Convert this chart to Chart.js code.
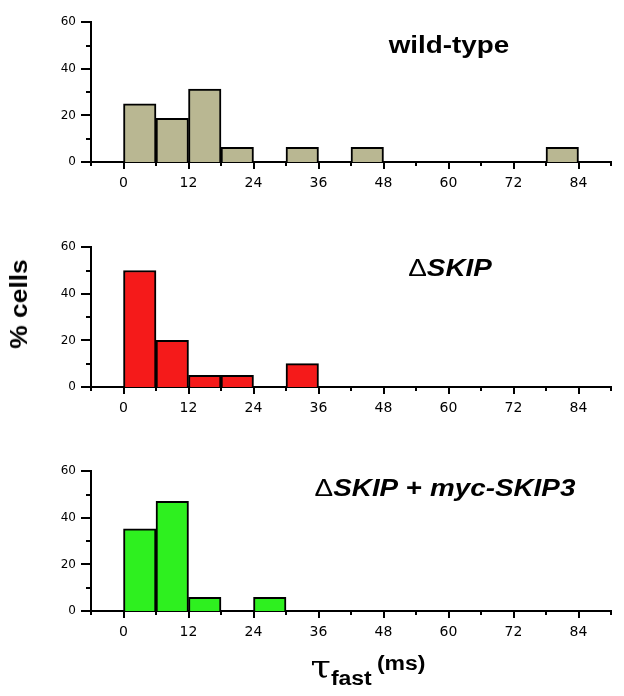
<!DOCTYPE html>
<html>
<head>
<meta charset="utf-8">
<script src="https://cdn.jsdelivr.net/npm/chart.js@4.4.1/dist/chart.umd.min.js"></script>
<style>
  body { margin: 0; background: #fff; font-family: "Liberation Sans", Arial, sans-serif; }
  #wrap { position: relative; width: 624px; height: 696px; overflow: hidden; }
  .panel { position: absolute; left: 0; width: 624px; height: 200px; }
  .lbl { position: absolute; font-weight: bold; color: #000; white-space: nowrap; transform: translate(-50%, -50%) scaleX(1.16); }
  .d { font-weight: normal; }
</style>
</head>
<body>
<div id="wrap">
  <div class="panel" style="top:0px"><canvas id="c1"></canvas></div>
  <div class="panel" style="top:225px"><canvas id="c2"></canvas></div>
  <div class="panel" style="top:449px"><canvas id="c3"></canvas></div>

  <div class="lbl" style="left:449px; top:45px; font-size:24px;">wild-type</div>
  <div class="lbl" style="left:450px; top:268px; font-size:24px;"><span class="d">Δ</span><i>SKIP</i></div>
  <div class="lbl" style="left:445px; top:488px; font-size:24px;"><span class="d">Δ</span><i>SKIP</i> + <i>myc-SKIP3</i></div>
  <div class="lbl" style="left:19px; top:304px; font-size:24px; transform: translate(-50%, -50%) rotate(-90deg) scaleX(1.1);">% cells</div>
  <div class="lbl" style="left:368px; top:667px; font-weight:normal; transform: translate(-50%, -50%) scaleX(1.15);">
    <span style="font-size:32px; font-family:'DejaVu Serif', serif;">τ</span><span style="font-size:20px; font-weight:bold; position:relative; top:7px;">fast</span>
    <span style="font-size:20px; font-weight:bold; position:relative; top:-8px;">(ms)</span>
  </div>
</div>

<script>
// histogram bins (ms), 6 ms wide
const binStarts = [0, 6, 12, 18, 24, 30, 36, 42, 48, 54, 60, 66, 72, 78];
const binWidth = 6;

// % cells per bin
const wildType = [25, 18.75, 31.25, 6.25, 0, 6.25, 0, 6.25, 0, 0, 0, 0, 0, 6.25];
const deltaSkip = [50, 20, 5, 5, 0, 10, 0, 0, 0, 0, 0, 0, 0, 0];
const deltaSkipMyc = [35.3, 47.1, 5.9, 0, 5.9, 0, 0, 0, 0, 0, 0, 0, 0, 0];

const xTickLabels = [0, 12, 24, 36, 48, 60, 72, 84];
const yTickLabels = [0, 20, 40, 60];

// tick marks outside the axes, major and minor
const tickMarks = {
  id: "tickMarks",
  afterDraw(chart) {
    const ctx = chart.ctx;
    const xs = chart.scales.x;
    const ys = chart.scales.y;
    const y0 = ys.getPixelForValue(0);
    const x0 = xs.getPixelForValue(-6);
    ctx.save();
    ctx.strokeStyle = "#000";
    ctx.lineWidth = 2;
    ctx.beginPath();
    for (let v = -6; v <= 90; v += 6) {
      const px = Math.round(xs.getPixelForValue(v));
      const len = xTickLabels.includes(v) ? 7 : 4;
      ctx.moveTo(px, y0);
      ctx.lineTo(px, y0 + len);
    }
    for (let v = 0; v <= 60; v += 10) {
      const py = Math.round(ys.getPixelForValue(v));
      const len = yTickLabels.includes(v) ? 10 : 5;
      ctx.moveTo(x0, py);
      ctx.lineTo(x0 - len, py);
    }
    ctx.stroke();
    ctx.restore();
  }
};

function makeHist(id, values, fill) {
  const data = binStarts.map((b, i) => ({ x: b + binWidth / 2, y: values[i] }));
  return new Chart(document.getElementById(id), {
    type: "bar",
    data: {
      datasets: [{
        data: data,
        backgroundColor: fill,
        borderColor: "#000",
        borderWidth: { top: 2, left: 2, right: 2, bottom: 0 },
        borderSkipped: "bottom",
        barPercentage: 1,
        categoryPercentage: 1
      }]
    },
    options: {
      responsive: false,
      animation: false,
      events: [],
      layout: { padding: { top: 17, right: 12, bottom: 8, left: 0 } },
      plugins: { legend: { display: false }, tooltip: { enabled: false } },
      scales: {
        x: {
          type: "linear",
          offset: false,
          min: -6,
          max: 90,
          afterFit: (s) => { s.height = 30; },
          grid: { display: false, drawTicks: false },
          border: { display: true, color: "#000", width: 2 },
          ticks: {
            stepSize: 6,
            autoSkip: false,
            maxRotation: 0,
            padding: 13,
            color: "#000",
            font: { family: "'DejaVu Sans', sans-serif", size: 14 },
            callback: (v) => (xTickLabels.includes(v) ? String(v) : "")
          }
        },
        y: {
          min: 0,
          max: 60,
          afterFit: (s) => { s.width = 91; },
          grid: { display: false, drawTicks: false },
          border: { display: true, color: "#000", width: 2 },
          ticks: {
            stepSize: 20,
            padding: 15,
            color: "#000",
            font: { family: "'DejaVu Sans', sans-serif", size: 12 }
          }
        }
      }
    },
    plugins: [tickMarks]
  });
}

for (const id of ["c1", "c2", "c3"]) {
  const c = document.getElementById(id);
  c.width = 624;
  c.height = 200;
}

makeHist("c1", wildType, "#B9B792");
makeHist("c2", deltaSkip, "#F51A1A");
makeHist("c3", deltaSkipMyc, "#2EF01F");
</script>
</body>
</html>
